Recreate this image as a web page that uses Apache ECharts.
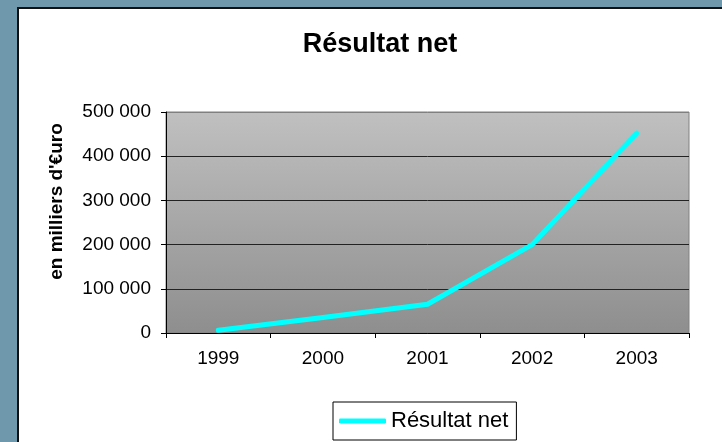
<!DOCTYPE html>
<html>
<head>
<meta charset="utf-8">
<script src="https://cdn.jsdelivr.net/npm/echarts@6/dist/echarts.min.js"></script>
<style>
  html, body { margin: 0; padding: 0; }
  #wrap { position: relative; width: 722px; height: 442px; background: #6f98ad; overflow: hidden; }
  #panel { position: absolute; left: 17px; top: 7px; right: 0; bottom: 0; background: #fff; border-left: 2px solid #111; border-top: 2px solid #111; }
  #chart { position: absolute; left: 0; top: 0; width: 722px; height: 442px; }
</style>
</head>
<body>
<div id="wrap"><div id="panel"></div><div id="chart"></div></div>
<script>
const years = ['1999', '2000', '2001', '2002', '2003'];
const resultatNet = [6000, 35000, 65000, 200000, 452000];
const seriesName = 'Résultat net';
const chartTitle = 'Résultat net';
const yAxisTitle = "en milliers d'€uro";

const font = 'Arial, "Liberation Sans", sans-serif';
const chart = echarts.init(document.getElementById('chart'));
chart.setOption({
  animation: false,
  title: {
    text: chartTitle,
    left: 375,
    textAlign: 'center',
    top: 26,
    textStyle: { fontFamily: font, fontSize: 27, fontWeight: 'bold', color: '#000' }
  },
  legend: {
    data: [{ name: seriesName, icon: 'roundRect' }],
    left: 333,
    top: 402,
    padding: [8, 8, 8, 6],
    itemWidth: 47,
    itemHeight: 5,
    borderColor: '#000',
    borderWidth: 1,
    borderRadius: 0,
    textStyle: { fontFamily: font, fontSize: 22, color: '#000' }
  },
  grid: {
    left: 166, right: 33, top: 112, bottom: 109,
    show: true,
    borderColor: '#808080',
    borderWidth: 1,
    backgroundColor: {
      type: 'linear', x: 0, y: 0, x2: 0, y2: 1,
      colorStops: [{ offset: 0, color: '#c0c0c0' }, { offset: 1, color: '#8e8e8e' }]
    }
  },
  xAxis: {
    type: 'category',
    data: years,
    boundaryGap: true,
    axisLine: { lineStyle: { color: '#000', width: 1 } },
    axisTick: { show: true, length: 5, lineStyle: { color: '#000' } },
    axisLabel: { fontFamily: font, fontSize: 19, color: '#000', margin: 16 },
    splitLine: { show: false }
  },
  yAxis: {
    type: 'value',
    min: 0, max: 500000, interval: 100000,
    name: yAxisTitle,
    nameLocation: 'middle',
    nameRotate: 90,
    nameGap: 100,
    nameMoveOverlap: false,
    nameTextStyle: { fontFamily: font, fontSize: 19, fontWeight: 'bold', color: '#000', padding: [0, 0, 0, 42] },
    axisLine: { show: true, lineStyle: { color: '#000', width: 1 } },
    axisTick: { show: true, length: 5, lineStyle: { color: '#000' } },
    axisLabel: {
      fontFamily: font, fontSize: 19, color: '#000', margin: 15,
      formatter: v => String(v).replace(/\B(?=(\d{3})+(?!\d))/g, ' ')
    },
    splitLine: { show: true, lineStyle: { color: ['#222', '#222', '#222', '#222', '#222', '#808080'], width: 1 } }
  },
  series: [{
    name: seriesName,
    type: 'line',
    data: resultatNet,
    symbol: 'none',
    lineStyle: { color: '#00ffff', width: 5, cap: 'round', join: 'round' },
    itemStyle: { color: '#00ffff' }
  }]
});
</script>
</body>
</html>
